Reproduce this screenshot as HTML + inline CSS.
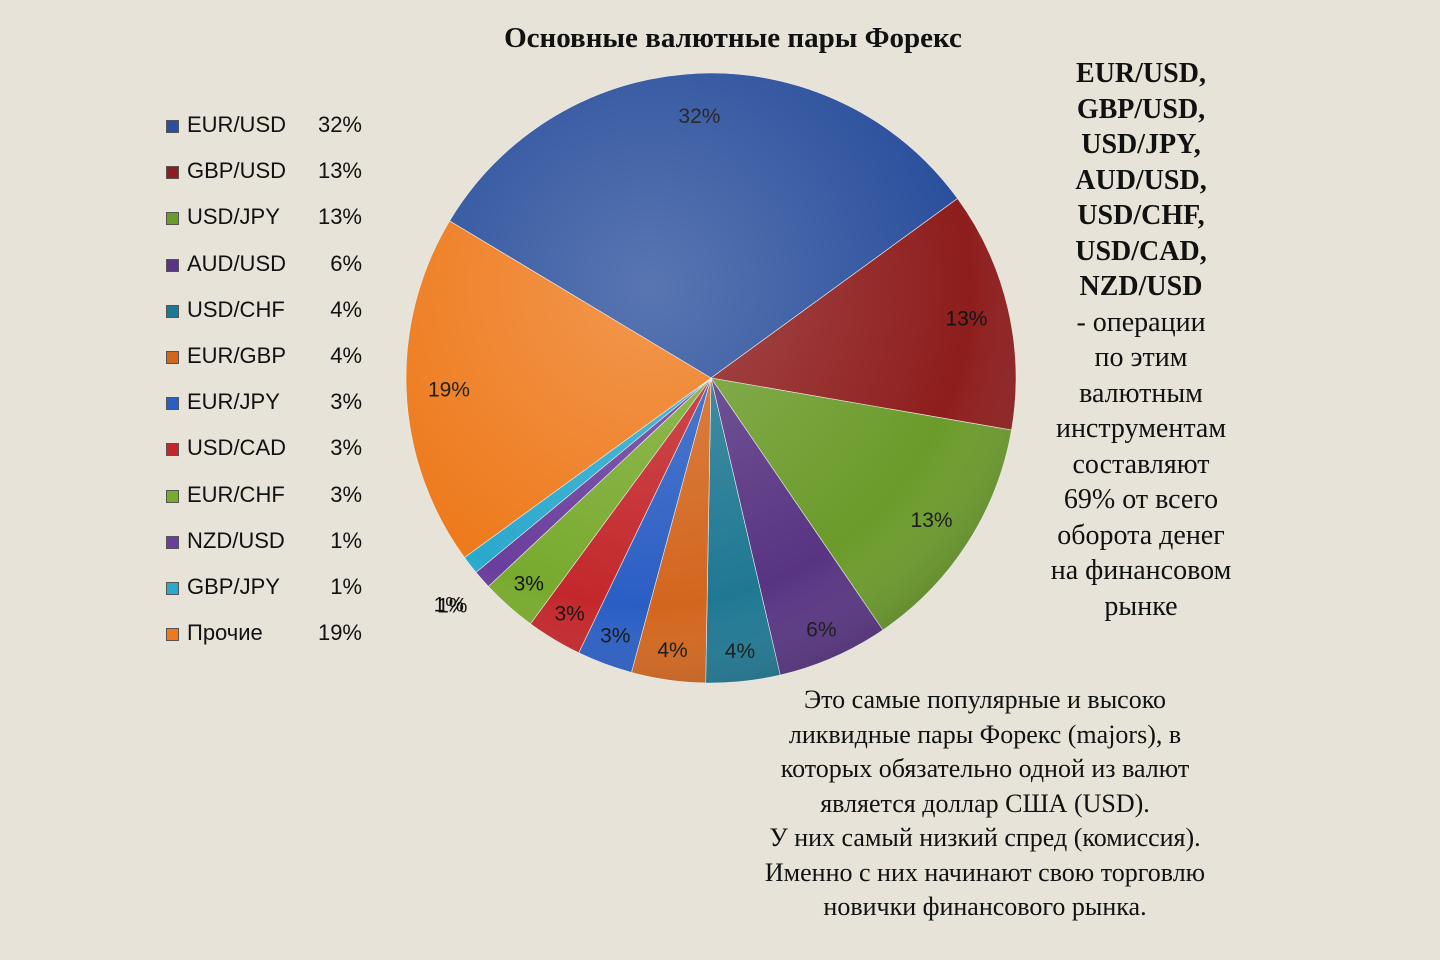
<!DOCTYPE html>
<html><head><meta charset="utf-8">
<style>
body{margin:0;width:1440px;height:960px;background:#e7e3d8;overflow:hidden;position:relative;font-family:"Liberation Serif","DejaVu Serif",serif;color:#111}
.title{position:absolute;left:0;width:1466px;top:22px;text-align:center;font-weight:bold;font-size:29px}
.legend{position:absolute;left:162px;top:110px;font-family:"Liberation Sans","DejaVu Sans",sans-serif;font-size:22px}
.row{position:absolute;height:30px;width:200px;white-space:nowrap}
.row .sw{position:absolute;left:4px;top:10px;width:11px;height:11px;border:1px solid #555}
.row .nm{position:absolute;left:25px;top:2px}
.row .pc{position:absolute;right:0;top:2px}
.rtext{position:absolute;left:1020px;width:242px;top:56px;text-align:center;font-size:28px;line-height:35.5px}
.rtext b{font-weight:bold}
.btext{position:absolute;left:690px;width:590px;top:683px;text-align:center;font-size:26px;line-height:34.5px}
</style></head><body>
<div class="title">Основные валютные пары Форекс</div>
<div class="legend" id="legend"></div>
<svg id="pie" width="1440" height="960" style="position:absolute;left:0;top:0">
<defs>
<radialGradient id="sheen" cx="0.4" cy="0.35" r="0.75">
<stop offset="0" stop-color="#fff" stop-opacity="0.22"/>
<stop offset="0.7" stop-color="#fff" stop-opacity="0"/>
<stop offset="1" stop-color="#000" stop-opacity="0.25"/>
</radialGradient>
</defs>
</svg>
<div class="rtext"><b>EUR/USD,<br>GBP/USD,<br>USD/JPY,<br>AUD/USD,<br>USD/CHF,<br>USD/CAD,<br>NZD/USD</b><br>- операции<br>по этим<br>валютным<br>инструментам<br>составляют<br>69% от всего<br>оборота денег<br>на финансовом<br>рынке</div>
<div class="btext">Это самые популярные и высоко<br>ликвидные пары Форекс (majors), в<br>которых обязательно одной из валют<br>является доллар США (USD).<br>У них самый низкий спред (комиссия).<br>Именно с них начинают свою торговлю<br>новички финансового рынка.</div>
<script>
const categories=["EUR/USD","GBP/USD","USD/JPY","AUD/USD","USD/CHF","EUR/GBP","EUR/JPY","USD/CAD","EUR/CHF","NZD/USD","GBP/JPY","Прочие"];
const values=[32,13,13,6,4,4,3,3,3,1,1,19];
const colors=["#2a4f9c","#8e1d1d","#6b9b2a","#583482","#1f7893","#d3661e","#2b5ec4","#c3272b","#78aa2e","#6a3e9c","#2aa9cc","#ee7a1c"];
const labels=values.map(v=>v+"%");
const NS="http://www.w3.org/2000/svg";
const svg=document.getElementById("pie");
const cx=711,cy=378,R=305,start=-59;
const total=values.reduce((a,b)=>a+b,0);
function pt(deg,r){const a=deg*Math.PI/180;return [cx+r*Math.sin(a),cy-r*Math.cos(a)];}
let ang=start;
values.forEach((v,i)=>{
  const span=v/total*360;const a0=ang,a1=ang+span;ang=a1;
  const p0=pt(a0,R),p1=pt(a1,R);
  const d=`M${cx},${cy}L${p0[0]},${p0[1]}A${R},${R} 0 ${span>180?1:0} 1 ${p1[0]},${p1[1]}Z`;
  const p=document.createElementNS(NS,"path");
  p.setAttribute("d",d);p.setAttribute("fill",colors[i]);p.setAttribute("stroke","#eee");p.setAttribute("stroke-width","0.6");
  
  
  svg.appendChild(p);
  const mid=(a0+a1)/2;
  const lr=v>=3?(v>=10?R*0.86:R*0.9):R*1.13;
  let lp=pt(mid,lr);
  if(v<3&&i===categories.length-2)lp=[lp[0]+10,lp[1]+15];
  const t=document.createElementNS(NS,"text");
  t.setAttribute("x",lp[0]);t.setAttribute("y",lp[1]+7);t.setAttribute("text-anchor","middle");
  t.setAttribute("font-family","Liberation Sans, sans-serif");t.setAttribute("font-size","21");t.setAttribute("fill","#111");
  t.textContent=labels[i];
  
  
  svg.appendChild(t);
});
const c=document.createElementNS(NS,"circle");
c.setAttribute("cx",cx);c.setAttribute("cy",cy);c.setAttribute("r",R);c.setAttribute("fill","url(#sheen)");c.setAttribute("pointer-events","none");
svg.appendChild(c);
const lg=document.getElementById("legend");
categories.forEach((n,i)=>{
  const r=document.createElement("div");r.className="row";r.style.top=(i*46.2)+"px";
  
  
  r.innerHTML=`<span class="sw" style="background:${colors[i]}"></span><span class="nm">${n}</span><span class="pc">${labels[i]}</span>`;
  lg.appendChild(r);
});
</script>
</body></html>
